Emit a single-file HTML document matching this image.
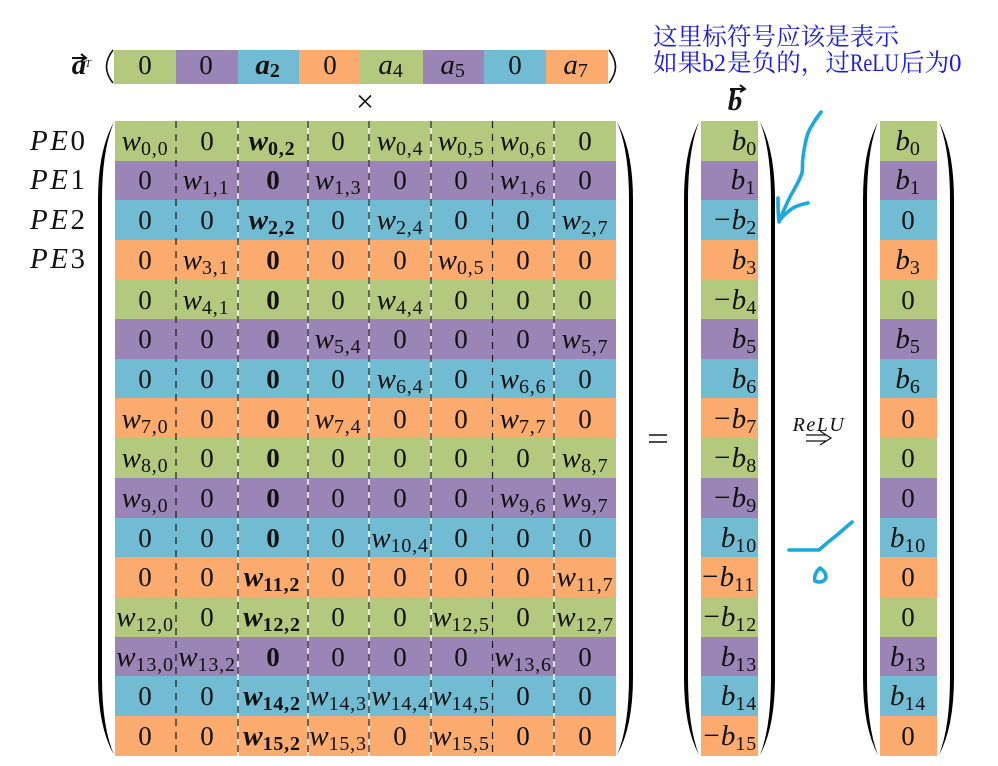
<!DOCTYPE html>
<html><head><meta charset="utf-8"><style>
html,body{margin:0;padding:0;background:#fff;width:998px;height:766px;overflow:hidden}
svg{display:block}
text{font-family:"Liberation Serif",serif;font-size:27px;fill:#111;text-anchor:middle}
.i{font-style:italic;font-size:29px}
.i tspan,.b tspan{font-style:normal;font-size:20px;letter-spacing:.8px}
.b{font-style:italic;font-weight:bold;font-size:29px}
.B{font-weight:bold}
.e text{text-anchor:end}
.c text{font-family:"Noto Serif CJK SC","Liberation Serif",serif;font-size:24.6px;fill:#1c1ce0;text-anchor:start}
.c .l{font-family:"Liberation Serif",serif;font-size:25px}
.p{font-size:29px;font-style:italic;text-anchor:start;letter-spacing:2.5px}
.p tspan{font-style:normal}
.br{fill:#000;stroke:none}
.hd{fill:none;stroke:#19a9dd;stroke-width:3.6;stroke-linecap:round;stroke-linejoin:round}
</style></head><body>
<svg width="998" height="766" viewBox="0 0 998 766" xmlns="http://www.w3.org/2000/svg">
<!-- top vector -->
<rect x="114" y="50" width="62" height="34" fill="#b3ca7e"/><rect x="176" y="50" width="62" height="34" fill="#9b85b6"/><rect x="238" y="50" width="61" height="34" fill="#71bbd3"/><rect x="299" y="50" width="61" height="34" fill="#fbab6d"/><rect x="360" y="50" width="63" height="34" fill="#b3ca7e"/><rect x="423" y="50" width="61" height="34" fill="#9b85b6"/><rect x="484" y="50" width="62" height="34" fill="#71bbd3"/><rect x="546" y="50" width="62" height="34" fill="#fbab6d"/>
<g transform="translate(0,74)"><text x="145">0</text><text x="206">0</text><text x="268" class="b">a<tspan dy="3">2</tspan></text><text x="330">0</text><text x="391" class="i">a<tspan dy="3">4</tspan></text><text x="453" class="i">a<tspan dy="3">5</tspan></text><text x="515">0</text><text x="576" class="i">a<tspan dy="3">7</tspan></text></g>
<path d="M113 50Q100 67 113 83M609 50Q622 67 609 83" fill="none" stroke="#111" stroke-width="1.6"/>
<text x="79" y="74" class="b">a</text><text x="88" y="67" style="font-size:10px;font-style:italic">T</text>
<path d="M72 58H85M81 54L86 58L81 61" fill="none" stroke="#111" stroke-width="2"/>
<text x="365" y="112" style="font-size:32px">×</text>
<text x="735" y="110" class="b">b</text>
<path d="M730 89H744M740 85L745 89L740 92" fill="none" stroke="#111" stroke-width="2"/>
<!-- row colours -->
<g fill="#b3ca7e"><rect x="115" y="121" width="501" height="40"/><rect x="115" y="280" width="501" height="39"/><rect x="115" y="438" width="501" height="40"/><rect x="115" y="597" width="501" height="40"/><rect x="701" y="121" width="57" height="40"/><rect x="701" y="280" width="57" height="39"/><rect x="701" y="438" width="57" height="40"/><rect x="701" y="597" width="57" height="40"/><rect x="880" y="121" width="57" height="40"/><rect x="880" y="280" width="57" height="39"/><rect x="880" y="438" width="57" height="40"/><rect x="880" y="597" width="57" height="40"/></g>
<g fill="#9b85b6"><rect x="115" y="161" width="501" height="39"/><rect x="115" y="319" width="501" height="40"/><rect x="115" y="478" width="501" height="40"/><rect x="115" y="637" width="501" height="39"/><rect x="701" y="161" width="57" height="39"/><rect x="701" y="319" width="57" height="40"/><rect x="701" y="478" width="57" height="40"/><rect x="701" y="637" width="57" height="39"/><rect x="880" y="161" width="57" height="39"/><rect x="880" y="319" width="57" height="40"/><rect x="880" y="478" width="57" height="40"/><rect x="880" y="637" width="57" height="39"/></g>
<g fill="#71bbd3"><rect x="115" y="200" width="501" height="40"/><rect x="115" y="359" width="501" height="39"/><rect x="115" y="518" width="501" height="39"/><rect x="115" y="676" width="501" height="40"/><rect x="701" y="200" width="57" height="40"/><rect x="701" y="359" width="57" height="39"/><rect x="701" y="518" width="57" height="39"/><rect x="701" y="676" width="57" height="40"/><rect x="880" y="200" width="57" height="40"/><rect x="880" y="359" width="57" height="39"/><rect x="880" y="518" width="57" height="39"/><rect x="880" y="676" width="57" height="40"/></g>
<g fill="#fbab6d"><rect x="115" y="240" width="501" height="40"/><rect x="115" y="398" width="501" height="40"/><rect x="115" y="557" width="501" height="40"/><rect x="115" y="716" width="501" height="40"/><rect x="701" y="240" width="57" height="40"/><rect x="701" y="398" width="57" height="40"/><rect x="701" y="557" width="57" height="40"/><rect x="701" y="716" width="57" height="40"/><rect x="880" y="240" width="57" height="40"/><rect x="880" y="398" width="57" height="40"/><rect x="880" y="557" width="57" height="40"/><rect x="880" y="716" width="57" height="40"/></g>
<!-- dashed separators -->
<g stroke="#fff" stroke-width="1.4"><path d="M238 121V756M308 121V756M369 121V756M431 121V756M554 121V756"/></g>
<g stroke="#1a1a1a" stroke-width="1.2" stroke-dasharray="7 6"><path d="M176 121V756M238 121V756M308 121V756M369 121V756M431 121V756M492.500 121V756M554 121V756"/></g>
<!-- brackets -->
<path class="br" d="M114 122Q98 150 98 200V677Q98 727 114 755Q102 727 102 677V200Q102 150 114 122Z"/>
<path class="br" d="M617 122Q633 150 633 200V677Q633 727 617 755Q629 727 629 677V200Q629 150 617 122Z"/>
<path class="br" d="M699 122Q684 150 684 200V677Q684 727 699 755Q688 727 688 677V200Q688 150 699 122Z"/>
<path class="br" d="M760 122Q775 150 775 200V677Q775 727 760 755Q771 727 771 677V200Q771 150 760 122Z"/>
<path class="br" d="M878 122Q863 150 863 200V677Q863 727 878 755Q867 727 867 677V200Q867 150 878 122Z"/>
<path class="br" d="M939 122Q954 150 954 200V677Q954 727 939 755Q950 727 950 677V200Q950 150 939 122Z"/>
<!-- PE labels -->
<text x="30" y="150" class="p">PE<tspan>0</tspan></text><text x="30" y="189" class="p">PE<tspan>1</tspan></text><text x="30" y="229" class="p">PE<tspan>2</tspan></text><text x="30" y="268" class="p">PE<tspan>3</tspan></text>
<!-- matrix -->
<g transform="translate(0,150)"><text x="145" class="i">w<tspan dy="5">0,0</tspan></text><text x="207">0</text><text x="272" class="b">w<tspan dy="5">0,2</tspan></text><text x="338">0</text><text x="400" class="i">w<tspan dy="5">0,4</tspan></text><text x="461" class="i">w<tspan dy="5">0,5</tspan></text><text x="523" class="i">w<tspan dy="5">0,6</tspan></text><text x="585">0</text></g>
<g transform="translate(0,189)"><text x="145">0</text><text x="206" class="i">w<tspan dy="5">1,1</tspan></text><text x="273" class="B">0</text><text x="338" class="i">w<tspan dy="5">1,3</tspan></text><text x="400">0</text><text x="461">0</text><text x="523" class="i">w<tspan dy="5">1,6</tspan></text><text x="585">0</text></g>
<g transform="translate(0,229)"><text x="145">0</text><text x="207">0</text><text x="272" class="b">w<tspan dy="5">2,2</tspan></text><text x="338">0</text><text x="400" class="i">w<tspan dy="5">2,4</tspan></text><text x="461">0</text><text x="523">0</text><text x="585" class="i">w<tspan dy="5">2,7</tspan></text></g>
<g transform="translate(0,269)"><text x="145">0</text><text x="206" class="i">w<tspan dy="5">3,1</tspan></text><text x="273" class="B">0</text><text x="338">0</text><text x="400">0</text><text x="461" class="i">w<tspan dy="5">0,5</tspan></text><text x="523">0</text><text x="585">0</text></g>
<g transform="translate(0,309)"><text x="145">0</text><text x="206" class="i">w<tspan dy="5">4,1</tspan></text><text x="273" class="B">0</text><text x="338">0</text><text x="400" class="i">w<tspan dy="5">4,4</tspan></text><text x="461">0</text><text x="523">0</text><text x="585">0</text></g>
<g transform="translate(0,348)"><text x="145">0</text><text x="207">0</text><text x="273" class="B">0</text><text x="338" class="i">w<tspan dy="5">5,4</tspan></text><text x="400">0</text><text x="461">0</text><text x="523">0</text><text x="585" class="i">w<tspan dy="5">5,7</tspan></text></g>
<g transform="translate(0,388)"><text x="145">0</text><text x="207">0</text><text x="273" class="B">0</text><text x="338">0</text><text x="400" class="i">w<tspan dy="5">6,4</tspan></text><text x="461">0</text><text x="523" class="i">w<tspan dy="5">6,6</tspan></text><text x="585">0</text></g>
<g transform="translate(0,428)"><text x="145" class="i">w<tspan dy="5">7,0</tspan></text><text x="207">0</text><text x="273" class="B">0</text><text x="338" class="i">w<tspan dy="5">7,4</tspan></text><text x="400">0</text><text x="461">0</text><text x="523" class="i">w<tspan dy="5">7,7</tspan></text><text x="585">0</text></g>
<g transform="translate(0,467)"><text x="145" class="i">w<tspan dy="5">8,0</tspan></text><text x="207">0</text><text x="273" class="B">0</text><text x="338">0</text><text x="400">0</text><text x="461">0</text><text x="523">0</text><text x="585" class="i">w<tspan dy="5">8,7</tspan></text></g>
<g transform="translate(0,507)"><text x="145" class="i">w<tspan dy="5">9,0</tspan></text><text x="207">0</text><text x="273" class="B">0</text><text x="338">0</text><text x="400">0</text><text x="461">0</text><text x="523" class="i">w<tspan dy="5">9,6</tspan></text><text x="585" class="i">w<tspan dy="5">9,7</tspan></text></g>
<g transform="translate(0,547)"><text x="145">0</text><text x="207">0</text><text x="273" class="B">0</text><text x="338">0</text><text x="400" class="i">w<tspan dy="5">10,4</tspan></text><text x="461">0</text><text x="523">0</text><text x="585">0</text></g>
<g transform="translate(0,586)"><text x="145">0</text><text x="207">0</text><text x="272" class="b">w<tspan dy="5">11,2</tspan></text><text x="338">0</text><text x="400">0</text><text x="461">0</text><text x="523">0</text><text x="585" class="i">w<tspan dy="5">11,7</tspan></text></g>
<g transform="translate(0,626)"><text x="145" class="i">w<tspan dy="5">12,0</tspan></text><text x="207">0</text><text x="272" class="b">w<tspan dy="5">12,2</tspan></text><text x="338">0</text><text x="400">0</text><text x="461" class="i">w<tspan dy="5">12,5</tspan></text><text x="523">0</text><text x="585" class="i">w<tspan dy="5">12,7</tspan></text></g>
<g transform="translate(0,666)"><text x="145" class="i">w<tspan dy="5">13,0</tspan></text><text x="207" class="i">w<tspan dy="5">13,2</tspan></text><text x="273" class="B">0</text><text x="338">0</text><text x="400">0</text><text x="461">0</text><text x="523" class="i">w<tspan dy="5">13,6</tspan></text><text x="585">0</text></g>
<g transform="translate(0,705)"><text x="145">0</text><text x="207">0</text><text x="272" class="b">w<tspan dy="5">14,2</tspan></text><text x="338" class="i">w<tspan dy="5">14,3</tspan></text><text x="400" class="i">w<tspan dy="5">14,4</tspan></text><text x="461" class="i">w<tspan dy="5">14,5</tspan></text><text x="523">0</text><text x="585">0</text></g>
<g transform="translate(0,745)"><text x="145">0</text><text x="207">0</text><text x="272" class="b">w<tspan dy="5">15,2</tspan></text><text x="338" class="i">w<tspan dy="5">15,3</tspan></text><text x="400">0</text><text x="461" class="i">w<tspan dy="5">15,5</tspan></text><text x="523">0</text><text x="585">0</text></g>
<!-- b column -->
<g class="e">
<text x="757" y="150" class="i">b<tspan dy="5">0</tspan></text><text x="756" y="189" class="i">b<tspan dy="5">1</tspan></text><text x="757" y="229" class="i">−b<tspan dy="5">2</tspan></text><text x="757" y="269" class="i">b<tspan dy="5">3</tspan></text><text x="757" y="309" class="i">−b<tspan dy="5">4</tspan></text><text x="757" y="348" class="i">b<tspan dy="5">5</tspan></text><text x="757" y="388" class="i">b<tspan dy="5">6</tspan></text><text x="757" y="428" class="i">−b<tspan dy="5">7</tspan></text><text x="757" y="467" class="i">−b<tspan dy="5">8</tspan></text><text x="757" y="507" class="i">−b<tspan dy="5">9</tspan></text><text x="757" y="547" class="i">b<tspan dy="5">10</tspan></text><text x="755" y="586" class="i">−b<tspan dy="5">11</tspan></text><text x="757" y="626" class="i">−b<tspan dy="5">12</tspan></text><text x="757" y="666" class="i">b<tspan dy="5">13</tspan></text><text x="757" y="705" class="i">b<tspan dy="5">14</tspan></text><text x="757" y="745" class="i">−b<tspan dy="5">15</tspan></text>
</g>
<!-- result column -->
<text x="908" y="150" class="i">b<tspan dy="5">0</tspan></text><text x="908" y="189" class="i">b<tspan dy="5">1</tspan></text><text x="908" y="229">0</text><text x="908" y="269" class="i">b<tspan dy="5">3</tspan></text><text x="908" y="309">0</text><text x="908" y="348" class="i">b<tspan dy="5">5</tspan></text><text x="908" y="388" class="i">b<tspan dy="5">6</tspan></text><text x="908" y="428">0</text><text x="908" y="467">0</text><text x="908" y="507">0</text><text x="908" y="547" class="i">b<tspan dy="5">10</tspan></text><text x="908" y="586">0</text><text x="908" y="626">0</text><text x="908" y="666" class="i">b<tspan dy="5">13</tspan></text><text x="908" y="705" class="i">b<tspan dy="5">14</tspan></text><text x="908" y="745">0</text>
<!-- operators -->
<path d="M649 435H667M649 442H667" stroke="#111" stroke-width="1.4"/>
<text x="819" y="431" class="i" style="font-size:20px;letter-spacing:1.5px">ReLU</text>
<path d="M806 435H826M806 441H826M820 431L831 438L820 445" fill="none" stroke="#111" stroke-width="1.2"/>
<!-- annotation -->
<g class="c">
<text x="653" y="45">这里标符号应该是表示</text>
<text x="653" y="71">如果</text><text x="702" y="71" class="l" textLength="24" lengthAdjust="spacingAndGlyphs">b2</text><text x="727" y="71">是负的，过</text><text x="850" y="71" class="l" textLength="49" lengthAdjust="spacingAndGlyphs">ReLU</text><text x="900" y="71">后为</text><text x="949" y="71" class="l">0</text>
</g>
<!-- handwriting -->
<path class="hd" d="M821 112C815 120 811 126 808 133C805 142 804 150 803 157C802 165 803 168 802 173C799 182 794 189 790 197C786 205 782 214 779 222"/>
<path class="hd" d="M778 198C778 207 778 215 779 221C784 215 788 211 793 208C798 205 803 204 808 203"/>
<path class="hd" d="M789 550H819L827 543L837 535L852 522"/>
<path class="hd" d="M820 568C815 572 814 578 815 581C819 583 825 582 826 577C826 573 823 570 820 568Z"/>
</svg>
</body></html>
